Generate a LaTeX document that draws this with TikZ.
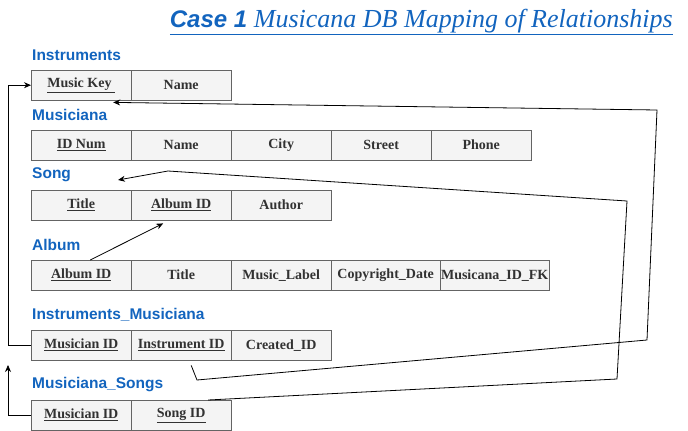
\documentclass[tikz,border=0pt]{standalone}
\usepackage{fontspec}
\setmainfont{Liberation Serif}
\setsansfont{Liberation Sans}
\usetikzlibrary{arrows.meta,positioning,calc}
\definecolor{headblue}{RGB}{18,100,190}
\definecolor{cellgray}{RGB}{244,244,244}
\definecolor{linegray}{RGB}{100,100,100}
\definecolor{celltext}{RGB}{50,50,50}

\begin{document}
\begin{tikzpicture}[
  x=1pt,y=-1pt,
  cell/.style={draw=linegray,fill=cellgray,minimum width=100pt,minimum height=30pt,inner sep=0pt,anchor=north west,font=\bfseries\fontsize{14}{16}\selectfont,text=celltext},
  wcell/.style={cell,minimum width=109pt},
  head/.style={anchor=west,inner sep=0pt,text=headblue,font=\sffamily\bfseries\fontsize{15.5}{17}\selectfont},
  link/.style={-{Stealth[length=7pt,width=6pt]},line width=0.8pt}]
  \useasboundingbox (0,0) rectangle (688,431);
  % title
  \node(ttl)[anchor=east,inner sep=0pt,text=headblue] at(673,22){\underline{\sffamily\bfseries\itshape\fontsize{24}{26}\selectfont Case 1 \rmfamily\mdseries\fontsize{26}{28}\selectfont Musicana DB Mapping of Relationships}};
  % Instruments
  \node(hIns)[head] at(32,55){Instruments};
  \node(mk)[cell] at(31,70){\underline{Music Key }};
  \node(iName)[cell] at(131,70){Name};
  % Musiciana
  \node(hMus)[head] at(32,115){Musiciana};
  \node(idn)[cell] at(31,130){\underline{ID Num}};
  \node(mName)[cell] at(131,130){Name};
  \node(city)[cell] at(231,130){City};
  \node(street)[cell] at(331,130){Street};
  \node(phone)[cell] at(431,130){Phone};
  % Song
  \node(hSong)[head] at(32,175){Song};
  \node(sTitle)[cell] at(31,190){\underline{Title}};
  \node(sAlb)[cell] at(131,190){\underline{Album ID}};
  \node(author)[cell] at(231,190){Author};
  % Album
  \node(hAlb)[head] at(32,245){Album};
  \node(aAlb)[cell] at(31,260){\underline{Album ID}};
  \node(aTitle)[cell] at(131,260){Title};
  \node(label)[cell] at(231,260){Music\_Label};
  \node(cdate)[wcell] at(331,260){Copyright\_Date};
  \node(fk)[wcell] at(440,260){Musicana\_ID\_FK};
  % Instruments_Musiciana
  \node(hIM)[head] at(32,315){Instruments\_Musiciana};
  \node(imMus)[cell] at(31,330){\underline{Musician ID}};
  \node(imIns)[cell] at(131,330){\underline{Instrument ID}};
  \node(created)[cell] at(231,330){Created\_ID};
  % Musiciana_Songs
  \node(hMS)[head] at(32,385){Musiciana\_Songs};
  \node(msMus)[cell] at(31,400){\underline{Musician ID}};
  \node(msSong)[cell] at(131,400){\underline{Song ID}};
  % links
  \coordinate(upEnd) at(8,365);
  \coordinate(songEnd) at(118,180);
  \draw[link](imMus.west)--++(-23,0)|-(mk.west);
  \draw[link](msMus.west)--++(-23,0)--(upEnd);
  \draw[link]([xshift=10pt,yshift=-5pt]imIns.south)--(197,380)--(647,340)--(657,110)--([xshift=32pt,yshift=-2pt]mk.south);
  \draw[link]([xshift=27pt]msSong.north)--(617,379)--(627,201)--(168,171)--(songEnd);
  \draw[link]([xshift=9pt]aAlb.north)--([xshift=-18pt,yshift=-3pt]sAlb.south);
\end{tikzpicture}
\end{document}
